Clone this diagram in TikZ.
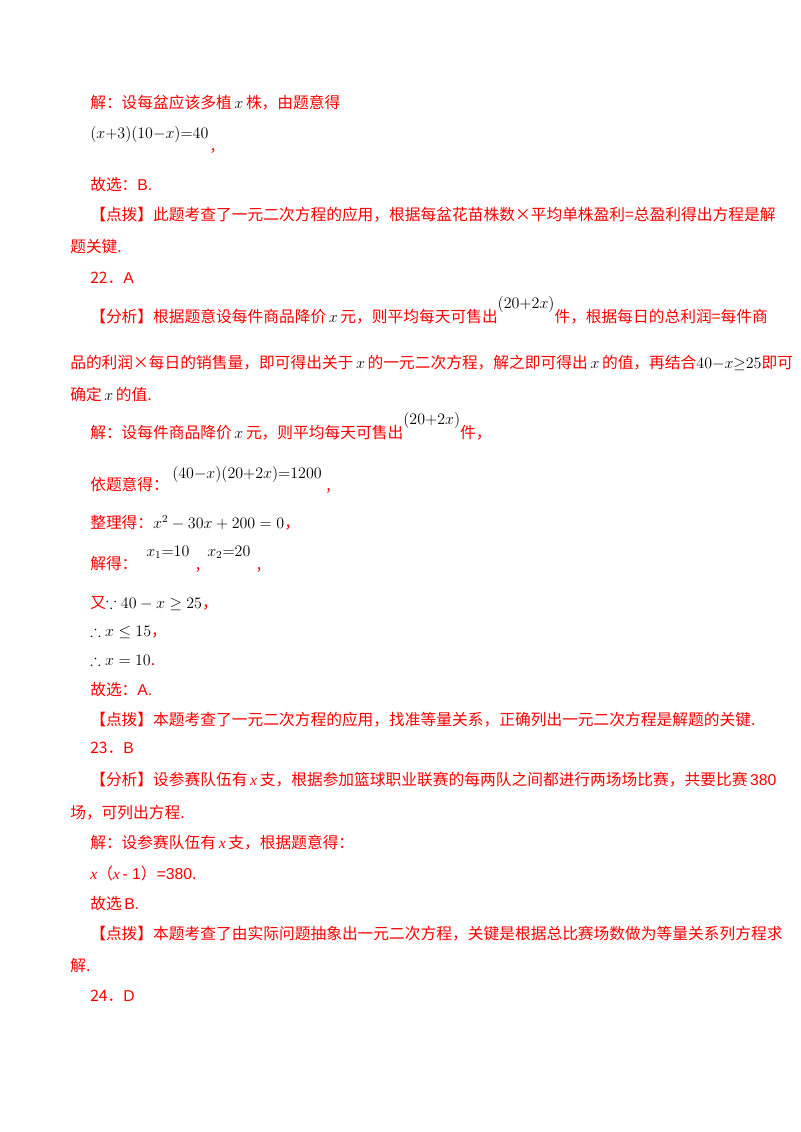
\documentclass[tikz,border=0pt]{standalone}
\usepackage{amssymb}
\usepackage{fontspec}
\setmainfont{Liberation Serif}
\newfontfamily\cjk{Noto Sans CJK SC}
\newfontfamily\latn{Liberation Sans}
\usetikzlibrary{calc}
\newcommand{\upeq}[1]{\raisebox{10pt}{\color{black}$#1$}}
\begin{document}
\begin{tikzpicture}[x=0.75pt,y=-0.75pt,
    txt/.style={anchor=base west,inner sep=0pt,text=red,font=\fontsize{11.8}{13}\selectfont\cjk},
    eq/.style={anchor=base west,inner sep=0pt,text=black,font=\fontsize{11.8}{13}\selectfont},
    ]
    % page
    \useasboundingbox[fill=white] (0,0) rectangle (800,1132);

    % question 21 (tail)
    \node[txt] (s21a) at (90,108) {解：设每盆应该多植\,{\color{black}$x$}\,株，由题意得};
    \node[eq] (e21) at (90,138) {$(x{+}3)(10{-}x){=}40$};
    \node[txt] (c21) at ($(e21.base east)+(2,12)$) {,};
    \node[txt] (k21) at (90,190) {故选：{\latn B.}};
    \node[txt] (d21a) at (90,220) {【点拨】此题考查了一元二次方程的应用，根据每盆花苗株数×平均单株盈利=总盈利得出方程是解};
    \node[txt] (d21b) at (70,252) {题关键.};

    % question 22
    \node[txt] (h22) at (90,283) {22．{\latn A}};
    \node[txt] (f22a) at (90,322) {【分析】根据题意设每件商品降价\,{\color{black}$x$}\,元，则平均每天可售出\upeq{(20{+}2x)}件，根据每日的总利润=每件商};
    \node[txt] (f22b) at (70,368) {品的利润×每日的销售量，即可得出关于\,{\color{black}$x$}\,的一元二次方程，解之即可得出\,{\color{black}$x$}\,的值，再结合{\color{black}$40{-}x{\ge}25$}即可};
    \node[txt] (f22c) at (70,400) {确定\,{\color{black}$x$}\,的值.};
    \node[txt] (s22a) at (90,438) {解：设每件商品降价\,{\color{black}$x$}\,元，则平均每天可售出\upeq{(20{+}2x)}件，};
    \node[txt] (s22b) at (90,490) {依题意得：};
    \node[eq] (e22a) at (172,478) {$(40{-}x)(20{+}2x){=}1200$};
    \node[txt] (c22a) at ($(e22a.base east)+(4,12)$) {,};
    \node[txt] (s22c) at (90,528) {整理得：{\color{black}$x^2-30x+200=0$}，};
    \node[txt] (s22d) at (90,569) {解得：};
    \node[eq] (r22a) at (146,556) {$x_1{=}10$};
    \node[txt] (c22b) at ($(r22a.base east)+(6,13)$) {,};
    \node[eq] (r22b) at (207,556) {$x_2{=}20$};
    \node[txt] (c22c) at ($(r22b.base east)+(6,13)$) {,};
    \node[txt] (s22e) at (90,608) {又{\color{black}$\because 40-x\ge25$}，};
    \node[txt] (s22f) at (90,636) {{\color{black}$\therefore x\le15$}，};
    \node[txt] (s22g) at (90,665) {{\color{black}$\therefore x=10$}.};
    \node[txt] (k22) at (90,695) {故选：{\latn A.}};
    \node[txt] (d22) at (90,725) {【点拨】本题考查了一元二次方程的应用，找准等量关系，正确列出一元二次方程是解题的关键.};

    % question 23
    \node[txt] (h23) at (90,753) {23．{\latn B}};
    \node[txt] (f23a) at (90,785) {【分析】设参赛队伍有\,{\itshape\rmfamily x}\,支，根据参加篮球职业联赛的每两队之间都进行两场场比赛，共要比赛\,{\latn 380}};
    \node[txt] (f23b) at (70,818) {场，可列出方程.};
    \node[txt] (s23a) at (90,848) {解：设参赛队伍有\,{\itshape\rmfamily x}\,支，根据题意得：};
    \node[txt] (s23b) at (90,879) {{\itshape\rmfamily x}（{\itshape\rmfamily x}\,{\latn - 1}）{\latn =380}.};
    \node[txt] (k23) at (90,909) {故选\,{\latn B.}};
    \node[txt] (d23a) at (90,939) {【点拨】本题考查了由实际问题抽象出一元二次方程，关键是根据总比赛场数做为等量关系列方程求};
    \node[txt] (d23b) at (70,971) {解.};

    % question 24
    \node[txt] (h24) at (90,1001) {24．{\latn D}};
\end{tikzpicture}
\end{document}
